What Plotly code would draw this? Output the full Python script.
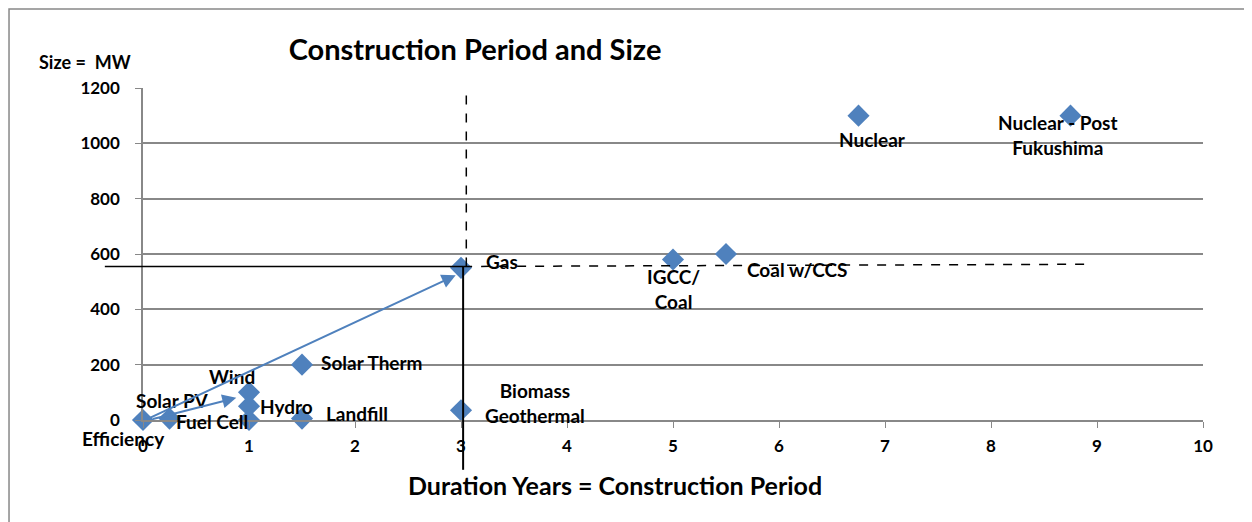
import plotly.graph_objects as go

# data
techs = ["Solar PV", "Efficiency", "Fuel Cell", "Wind", "Hydro", "Solar Therm", "Landfill",
         "Biomass<br>Geothermal", "Gas", "IGCC/<br>Coal", "Coal w/CCS", "Nuclear",
         "Nuclear - Post<br>Fukushima"]
duration_years = [0, 0.25, 1, 1, 1, 1.5, 1.5, 3, 3, 5, 5.5, 6.75, 8.75]
size_mw = [0, 5, 0, 100, 50, 200, 5, 35, 550, 580, 600, 1100, 1100]

# label offsets in pixels (x, y up)
label_shift = [(29, 20), (-46, -20), (-37, -1), (-17, 16), (37, 0), (70, 2), (55, 5),
               (74, 7), (41, 6), (0, -29), (71, -15), (14, -24), (-13, -19)]

x_ticks = list(range(0, 11))
y_ticks = [0, 200, 400, 600, 800, 1000, 1200]

# reference lines (gas level / gas duration)
gas_level = 555
gas_years = 3.02
dashed_end_years = 8.95

blue = "#4F81BD"
grey = "#888888"
font = "Lato"

fig = go.Figure()
fig.add_trace(go.Scatter(
    x=duration_years, y=size_mw, mode="markers",
    marker=dict(symbol="diamond", size=17, color=blue),
    cliponaxis=False, showlegend=False, hoverinfo="skip",
))

for name, x, y, (dx, dy) in zip(techs, duration_years, size_mw, label_shift):
    fig.add_annotation(x=x, y=y, text="<b>" + name + "</b>", showarrow=False,
                       xshift=dx, yshift=dy,
                       font=dict(family=font, size=19, color="black", weight="bold"))

# blue arrows
fig.add_annotation(x=2.95, y=523, ax=0.02, ay=0, xref="x", yref="y", axref="x", ayref="y",
                   text="", showarrow=True, arrowhead=2, arrowsize=1.4, arrowwidth=2,
                   arrowcolor=blue)
fig.add_annotation(x=0.88, y=80, ax=0.08, ay=2, xref="x", yref="y", axref="x", ayref="y",
                   text="", showarrow=True, arrowhead=2, arrowsize=1.4, arrowwidth=2,
                   arrowcolor=blue)

# black reference lines
fig.add_shape(type="line", xref="paper", yref="y", x0=-0.036, x1=gas_years / 10,
              y0=gas_level, y1=gas_level, line=dict(color="black", width=1.5))
fig.add_shape(type="line", xref="x", yref="paper", x0=gas_years, x1=gas_years,
              y0=gas_level / 1200, y1=-0.15, line=dict(color="black", width=2))
fig.add_shape(type="line", xref="x", yref="y", x0=gas_years + 0.03, x1=gas_years + 0.03,
              y0=gas_level, y1=1200, line=dict(color="black", width=1.5, dash="dash"))
fig.add_shape(type="line", xref="x", yref="y", x0=gas_years, x1=dashed_end_years,
              y0=gas_level, y1=gas_level + 8, line=dict(color="black", width=1.5, dash="dash"))

# chart frame
fig.add_shape(type="rect", xref="paper", yref="paper", x0=-0.1264, x1=1.2, y0=-0.4, y1=1.238,
              line=dict(color=grey, width=1.5), layer="below")

fig.add_annotation(text="<b>Size =  MW</b>", xref="paper", yref="paper", x=-0.055, y=1.078,
                   xanchor="center", yanchor="middle", showarrow=False,
                   font=dict(family=font, size=18, color="black", weight="bold"))

# x axis title sits left of the plot centre in the reference
fig.add_annotation(text="<b>Duration Years = Construction Period</b>", xref="paper", yref="paper",
                   x=0.445, y=-0.196, xanchor="center", yanchor="middle", showarrow=False,
                   font=dict(family=font, size=25, color="black", weight="bold"))

fig.update_layout(
    width=1244, height=514,
    margin=dict(l=135, r=49, t=80, b=102),
    paper_bgcolor="white", plot_bgcolor="white",
    title=dict(text="<b>Construction Period and Size</b>", x=467 / 1244, xanchor="center",
               y=1 - 42 / 514, yanchor="middle",
               font=dict(family=font, size=29, color="black", weight="bold")),
    font=dict(family=font, color="black"),
)
fig.update_xaxes(range=[0, 10], tickvals=x_ticks, ticks="outside", ticklen=6, tickcolor=grey,
                 showgrid=False, zeroline=False, showline=True, linecolor=grey, linewidth=1.5,
                 tickfont=dict(family=font, size=17, color="black", weight="bold"),
                 ticklabelstandoff=4)
fig.update_yaxes(range=[0, 1200], tickvals=y_ticks, ticks="outside", ticklen=6, tickcolor=grey,
                 showgrid=True, gridcolor=grey, gridwidth=1.5, zeroline=False,
                 showline=True, linecolor=grey, linewidth=1.5,
                 tickfont=dict(family=font, size=17, color="black", weight="bold"),
                 ticklabelstandoff=12)

fig.write_html("out.html")
